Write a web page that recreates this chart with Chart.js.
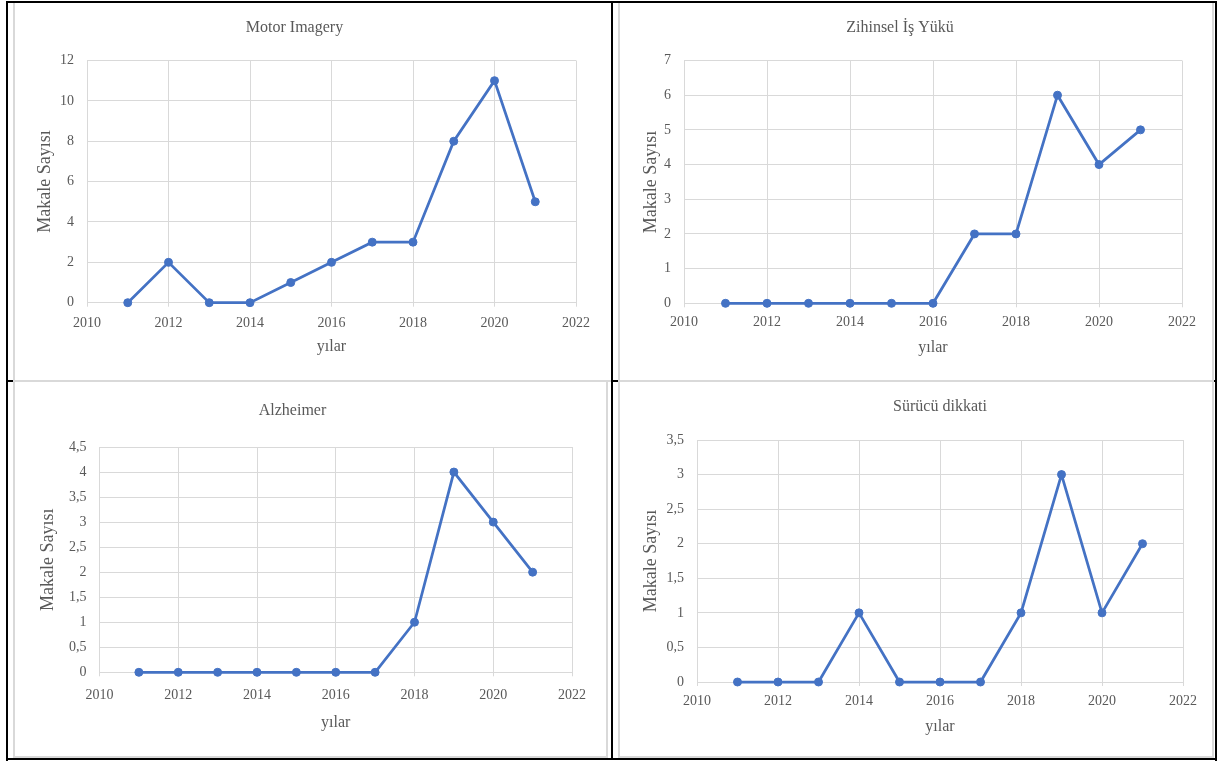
<!DOCTYPE html>
<html>
<head>
<meta charset="utf-8">
<title>Makale Sayısı</title>
<script src="https://cdn.jsdelivr.net/npm/chart.js@4.4.1/dist/chart.umd.min.js"></script>
<style>
  html, body { margin: 0; padding: 0; background: #fff; }
  #page { position: relative; width: 1221px; height: 762px; overflow: hidden; background: #fff; }
  .panel { position: absolute; z-index: 1; }
  .panel canvas { display: block; }
  .rule { position: absolute; background: #000; z-index: 4; }
  .rule.under { z-index: 2; }
  .frame { position: absolute; background: #d9d9d9; z-index: 3; }
</style>
</head>
<body>
<div id="page">
  <div class="panel" id="pA"><canvas id="cA"></canvas></div>
  <div class="panel" id="pB"><canvas id="cB"></canvas></div>
  <div class="panel" id="pC"><canvas id="cC"></canvas></div>
  <div class="panel" id="pD"><canvas id="cD"></canvas></div>
</div>
<script>
// ---- data ----
const years = [2011, 2012, 2013, 2014, 2015, 2016, 2017, 2018, 2019, 2020, 2021];
const yearTicks = [2010, 2012, 2014, 2016, 2018, 2020, 2022];

const motorImagery   = [0, 2, 0, 0, 1, 2, 3, 3, 8, 11, 5];
const zihinselIsYuku = [0, 0, 0, 0, 0, 0, 2, 2, 6, 4, 5];
const alzheimer      = [0, 0, 0, 0, 0, 0, 0, 1, 4, 3, 2];
const suruculDikkati = [0, 0, 0, 1, 0, 0, 0, 1, 3, 1, 2];

const motorTicks    = [0, 2, 4, 6, 8, 10, 12];
const zihinselTicks = [0, 1, 2, 3, 4, 5, 6, 7];
const alzheimerTicks = [0, 0.5, 1, 1.5, 2, 2.5, 3, 3.5, 4, 4.5];
const surucuTicks   = [0, 0.5, 1, 1.5, 2, 2.5, 3, 3.5];

const titles = ['Motor Imagery', 'Zihinsel İş Yükü', 'Alzheimer', 'Sürücü dikkati'];
const xTitle = 'yılar';
const yTitle = 'Makale Sayısı';

// ---- style ----
const BLUE = '#4472C4';
const TEXT = '#595959';
const GRID = '#d9d9d9';
const FONT = "'Liberation Serif', 'Times New Roman', serif";
const TITLE_SIZE = 16, TICK_SIZE = 14, XT_SIZE = 16, YT_SIZE = 18;
const LH = 1.2;
const TICK_LEN = 4;

// ---- page geometry of each panel (canvas box and plot targets) ----
const geom = {
  A: { L: 13,  T: 2,   W: 599, H: 379, left: 87,   right: 576,  top: 60.5, bottom: 302.7,
       titleY: 28,    yTitleX: 45.5, xTickY: 323.3, xTitleY: 347,   titleFull: true },
  B: { L: 618, T: 2,   W: 595, H: 379, left: 684,  right: 1182, top: 60.5, bottom: 303.3,
       titleY: 28,    yTitleX: 651,  xTickY: 322.7, xTitleY: 348,   titleFull: true },
  C: { L: 13,  T: 381, W: 594, H: 376, left: 99.5, right: 572,  top: 447,  bottom: 672.3,
       titleY: 410.7, yTitleX: 48,   xTickY: 695,   xTitleY: 723,   titleFull: true },
  D: { L: 618, T: 381, W: 595, H: 376, left: 697,  right: 1183, top: 440,  bottom: 682,
       titleY: 407,   yTitleX: 651,  xTickY: 701.7, xTitleY: 726.7, titleFull: false }
};

function tickList(arr) {
  return function (scale) { scale.ticks = arr.map(v => ({ value: v })); };
}

function makeChart(key, title, values, yTicks) {
  const g = geom[key];
  const panel = document.getElementById('p' + key);
  panel.style.left = g.L + 'px';
  panel.style.top = g.T + 'px';
  const canvas = document.getElementById('c' + key);
  canvas.width = g.W;
  canvas.height = g.H;
  canvas.style.width = g.W + 'px';
  canvas.style.height = g.H + 'px';

  const lhTitle = TITLE_SIZE * LH, lhTick = TICK_SIZE * LH, lhX = XT_SIZE * LH, lhY = YT_SIZE * LH;
  const xBottom = g.xTitleY + lhX / 2 + 4;         // page y of the x-scale box bottom
  const xHeight = xBottom - g.bottom;
  const yWidth = g.left - g.L;

  return new Chart(canvas, {
    type: 'line',
    data: {
      datasets: [{
        data: years.map((x, i) => ({ x: x, y: values[i] })),
        borderColor: BLUE,
        backgroundColor: BLUE,
        borderWidth: 2.75,
        pointRadius: 4,
        pointHoverRadius: 4,
        pointBorderWidth: 1,
        pointBackgroundColor: BLUE,
        pointBorderColor: BLUE,
        tension: 0,
        clip: false
      }]
    },
    options: {
      responsive: false,
      maintainAspectRatio: false,
      animation: false,
      devicePixelRatio: 1,
      events: [],
      layout: {
        padding: { left: 0, top: 0, right: (g.L + g.W) - g.right, bottom: (g.T + g.H) - xBottom }
      },
      plugins: {
        legend: { display: false },
        tooltip: { enabled: false },
        title: {
          display: true,
          text: title,
          fullSize: g.titleFull,
          color: TEXT,
          font: { family: FONT, size: TITLE_SIZE, weight: 'normal', lineHeight: LH },
          padding: { top: g.titleY - g.T - lhTitle / 2, bottom: g.top - g.titleY - lhTitle / 2 }
        }
      },
      scales: {
        x: {
          type: 'linear',
          min: yearTicks[0],
          max: yearTicks[yearTicks.length - 1],
          afterBuildTicks: tickList(yearTicks),
          afterFit: s => { s.height = xHeight; },
          ticks: {
            autoSkip: false,
            maxRotation: 0,
            color: TEXT,
            font: { family: FONT, size: TICK_SIZE, lineHeight: LH },
            padding: g.xTickY - g.bottom - TICK_LEN - lhTick / 2,
            callback: v => String(v)
          },
          grid: { color: GRID, lineWidth: 1, drawTicks: true, tickLength: TICK_LEN, tickColor: GRID },
          border: { color: GRID, width: 1 },
          title: {
            display: true,
            text: xTitle,
            color: TEXT,
            font: { family: FONT, size: XT_SIZE, lineHeight: LH },
            padding: { top: 0, bottom: 4 }
          }
        },
        y: {
          type: 'linear',
          min: yTicks[0],
          max: yTicks[yTicks.length - 1],
          afterBuildTicks: tickList(yTicks),
          afterFit: s => { s.width = yWidth; },
          ticks: {
            autoSkip: false,
            color: TEXT,
            font: { family: FONT, size: TICK_SIZE, lineHeight: LH },
            padding: 13,
            callback: v => String(v).replace('.', ',')
          },
          grid: { color: GRID, lineWidth: 1, drawTicks: false },
          border: { color: GRID, width: 1 },
          title: {
            display: true,
            text: yTitle,
            color: TEXT,
            font: { family: FONT, size: YT_SIZE, lineHeight: LH },
            padding: { top: g.yTitleX - g.L - lhY / 2, bottom: 0 }
          }
        }
      }
    }
  });
}

// ---- table rules and chart frames ----
function box(cls, x, y, w, h) {
  const d = document.createElement('div');
  d.className = cls;
  d.style.left = x + 'px';
  d.style.top = y + 'px';
  d.style.width = w + 'px';
  d.style.height = h + 'px';
  document.getElementById('page').appendChild(d);
}

// black table lines
box('rule', 6, 1, 1211, 2);        // top
box('rule', 6, 1, 2, 760);         // left
box('rule', 1215, 1, 2, 760);      // right
box('rule', 6, 758, 1211, 2);      // bottom
box('rule', 611, 1, 2, 759);       // middle vertical
box('rule under', 6, 380, 1211, 1.5); // middle horizontal

// light grey chart frames
box('frame', 13, 2, 2, 380);       // A left
box('frame', 13, 380, 598, 2);     // A bottom
box('frame', 618, 2, 2, 380);      // B left
box('frame', 1212, 2, 2, 380);     // B right
box('frame', 618, 380, 596, 2);    // B bottom
box('frame', 13, 380, 2, 378);     // C left
box('frame', 606, 380, 2, 378);    // C right
box('frame', 13, 380, 595, 2);     // C top
box('frame', 13, 756, 595, 2);     // C bottom
box('frame', 618, 380, 2, 378);    // D left
box('frame', 1212, 380, 2, 378);   // D right
box('frame', 618, 380, 596, 2);    // D top
box('frame', 618, 756, 596, 2);    // D bottom

makeChart('A', titles[0], motorImagery, motorTicks);
makeChart('B', titles[1], zihinselIsYuku, zihinselTicks);
makeChart('C', titles[2], alzheimer, alzheimerTicks);
makeChart('D', titles[3], suruculDikkati, surucuTicks);
</script>
</body>
</html>
